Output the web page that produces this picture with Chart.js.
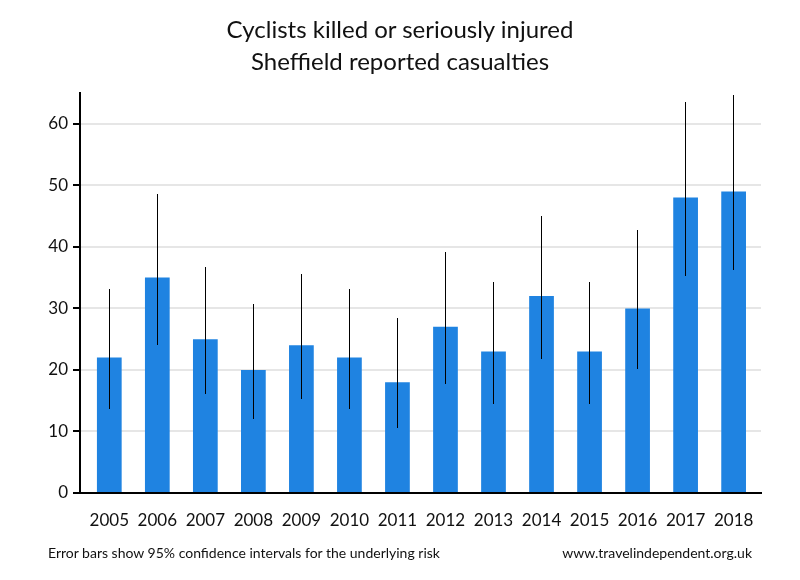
<!DOCTYPE html>
<html>
<head>
<meta charset="utf-8">
<script src="https://cdn.jsdelivr.net/npm/chart.js@4/dist/chart.umd.min.js"></script>
<style>
  html, body { margin: 0; padding: 0; background: #fff; }
  #wrap { position: relative; width: 800px; height: 580px; font-family: Lato, "Open Sans", sans-serif; color: #111; }
  #c { position: absolute; left: 0; top: 0; }
  .t { position: absolute; left: 0; width: 800px; text-align: center; font-size: 24px; line-height: 32px; }
  .f { position: absolute; font-size: 14px; line-height: 16px; top: 545px; white-space: nowrap; }
</style>
</head>
<body>
<div id="wrap">
  <canvas id="c" width="800" height="580"></canvas>
  <div class="t" style="top:13px">Cyclists killed or seriously injured</div>
  <div class="t" style="top:45px">Sheffield reported casualties</div>
  <div class="f" style="left:48px">Error bars show 95% confidence intervals for the underlying risk</div>
  <div class="f" style="right:48px">www.travelindependent.org.uk</div>
</div>
<script>
const years = ["2005","2006","2007","2008","2009","2010","2011","2012","2013","2014","2015","2016","2017","2018"];
const casualties = [22, 35, 25, 20, 24, 22, 18, 27, 23, 32, 23, 30, 48, 49];
const ciLow  = [13.7, 24.1, 16.1, 12.1, 15.3, 13.7, 10.6, 17.7, 14.5, 21.8, 14.5, 20.2, 35.3, 36.2];
const ciHigh = [33.2, 48.6, 36.8, 30.7, 35.6, 33.2, 28.4, 39.2, 34.3, 45.0, 34.3, 42.8, 63.6, 64.7];
const yTicks = [0, 10, 20, 30, 40, 50, 60];

const barPoints = casualties.map((v, i) => ({ x: i, y: v }));

const errorBars = {
  id: 'errorBars',
  afterDatasetsDraw(chart) {
    const { ctx, scales: { x, y } } = chart;
    ctx.save();
    ctx.strokeStyle = '#000';
    ctx.lineWidth = 1;
    ctx.beginPath();
    ciLow.forEach((lo, i) => {
      const px = Math.floor(x.getPixelForValue(i)) + 0.5;
      ctx.moveTo(px, Math.round(y.getPixelForValue(lo)));
      ctx.lineTo(px, Math.round(y.getPixelForValue(ciHigh[i])));
    });
    ctx.stroke();
    ctx.restore();
  }
};

new Chart(document.getElementById('c'), {
  type: 'bar',
  data: {
    datasets: [
      {
        label: 'Casualties',
        data: barPoints,
        backgroundColor: '#1f83e1',
        borderWidth: 0,
        categoryPercentage: 1,
        barPercentage: 0.515
      }
    ]
  },
  options: {
    responsive: false,
    animation: false,
    events: [],
    layout: { padding: { top: 93, right: 39, left: 0, bottom: 0 } },
    plugins: { legend: { display: false }, title: { display: false }, tooltip: { enabled: false } },
    scales: {
      x: {
        type: 'linear',
        min: -0.61,
        max: 13.57,
        offset: false,
        afterBuildTicks: s => { s.ticks = years.map((_, i) => ({ value: i })); },
        grid: { display: false, drawTicks: false },
        border: { display: true, color: '#000', width: 2 },
        ticks: {
          color: '#111', font: { family: 'Lato', size: 17 }, padding: 17, maxRotation: 0, autoSkip: false,
          callback: v => years[v]
        },
        afterFit: s => { s.height = 87; }
      },
      y: {
        min: 0,
        max: 65,
        afterBuildTicks: s => { s.ticks = yTicks.map(v => ({ value: v })); },
        grid: { color: '#e6e6e6', lineWidth: 2, tickColor: '#000', tickLength: 7, tickWidth: 2 },
        border: { display: true, color: '#000', width: 2 },
        ticks: { color: '#111', font: { family: 'Lato', size: 17 }, padding: 5 },
        afterFit: s => { s.width = 80; }
      }
    }
  },
  plugins: [errorBars]
});
</script>
</body>
</html>
